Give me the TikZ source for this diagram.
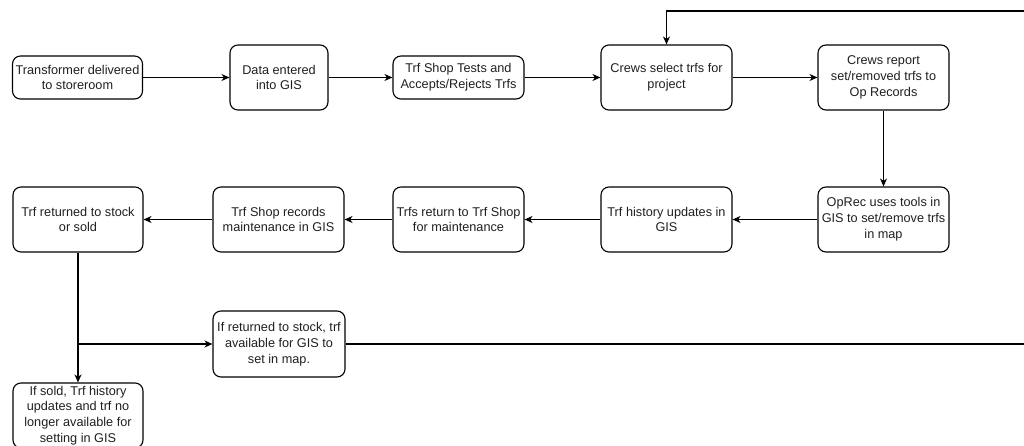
\documentclass[tikz,border=0pt]{standalone}
\usepackage{fontspec}
\setmainfont{Liberation Sans}
\usetikzlibrary{arrows.meta}
\begin{document}
\begin{tikzpicture}[x=1pt,y=-1pt,
  box/.style={draw=black, line width=1.1pt, rounded corners=8pt, align=center,
    inner sep=0pt, font=\fontsize{12.7}{15.8}\selectfont, text=black!88},
  conn/.style={draw=black, line width=1.1pt, -{Stealth[length=8pt,width=7pt,inset=2.5pt]}},
  plain/.style={draw=black, line width=1.1pt}]
\useasboundingbox (0,0) rectangle (1024,446);
\node[box, minimum width=130pt, minimum height=43pt] (n1) at (77.5,77.5) {Transformer delivered\\to storeroom};
\node[box, minimum width=98pt, minimum height=65pt] (n2) at (279,77.5) {Data entered\\into GIS};
\node[box, minimum width=131pt, minimum height=43pt] (n3) at (458.5,77.5) {Trf Shop Tests and\\Accepts/Rejects Trfs};
\node[box, minimum width=131pt, minimum height=65pt] (n4) at (666.5,77.5) {Crews select trfs for\\project};
\node[box, minimum width=131pt, minimum height=65pt] (n5) at (883.5,77.5) {Crews report\\set/removed trfs to\\Op Records};
\node[box, minimum width=131pt, minimum height=65pt] (n6) at (883.5,219.5) {OpRec uses tools in\\GIS to set/remove trfs\\in map};
\node[box, minimum width=131pt, minimum height=65pt] (n7) at (666.5,219.5) {Trf history updates in\\GIS};
\node[box, minimum width=131pt, minimum height=65pt] (n8) at (458.5,219.5) {Trfs return to Trf Shop\\for maintenance};
\node[box, minimum width=131pt, minimum height=65pt] (n9) at (278.5,219.5) {Trf Shop records\\maintenance in GIS};
\node[box, minimum width=130pt, minimum height=65pt] (n10) at (78,219.5) {Trf returned to stock\\or sold};
\node[box, minimum width=132pt, minimum height=66pt] (n11) at (279,344) {If returned to stock, trf\\available for GIS to\\set in map.};
\node[box, minimum width=130pt, minimum height=65pt] (n12) at (78,415.5) {If sold, Trf history\\updates and trf no\\longer available for\\setting in GIS};
\coordinate (br) at (78,344);
\coordinate (e1) at (1026,344);
\coordinate (e2) at (1026,11);
\coordinate (t4) at (666.5,11);
\draw[conn] (n1) -- (n2);
\draw[conn] (n2) -- (n3);
\draw[conn] (n3) -- (n4);
\draw[conn] (n4) -- (n5);
\draw[conn] (n5) -- (n6);
\draw[conn] (n6) -- (n7);
\draw[conn] (n7) -- (n8);
\draw[conn] (n8) -- (n9);
\draw[conn] (n9) -- (n10);
\draw[conn] (n10) -- (n12);
\draw[conn] (br) -- (n11);
\draw[plain] (n11) -- (e1);
\draw[conn] (e2) -- (t4) -- (n4);
\end{tikzpicture}
\end{document}
